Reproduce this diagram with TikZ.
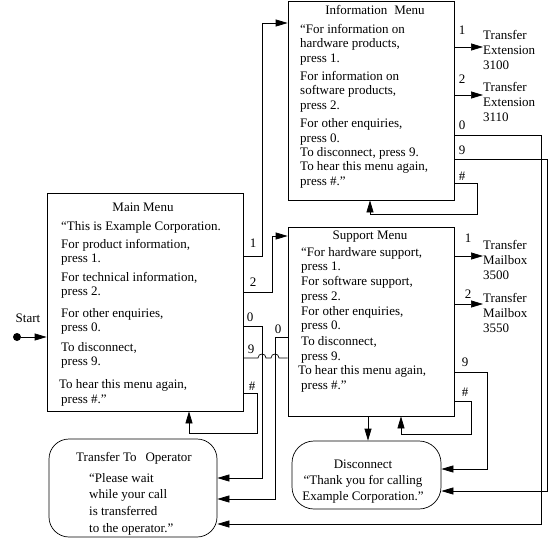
\documentclass[tikz,border=0pt]{standalone}
\usepackage{fontspec}
\setmainfont{Liberation Serif}
\usetikzlibrary{arrows.meta}

\tikzset{
  menubox/.style={draw, line width=0.7pt, inner sep=0pt},
  endbox/.style={draw, line width=0.7pt, inner sep=0pt, rounded corners=20pt},
  body/.style={inner sep=0pt, anchor=north west, align=left},
  key/.style={inner sep=0pt},
  arr/.style={line width=0.7pt, -{Triangle[length=12pt,width=7pt]}},
  wire/.style={line width=0.7pt}
}

\begin{document}
\begin{tikzpicture}[x=1pt, y=-1pt, font=\fontsize{13}{14}\selectfont]
\useasboundingbox (0,0) rectangle (551,541);

% menus
\node[menubox, minimum width=196pt, minimum height=218pt] (mainmenu) at (145,302) {};
\node[menubox, minimum width=166pt, minimum height=199pt] (infomenu) at (371,100.5) {};
\node[menubox, minimum width=166pt, minimum height=189pt] (supportmenu) at (371,321.5) {};
\node[endbox, minimum width=168pt, minimum height=98pt] (operator) at (133,488) {};
\node[endbox, rounded corners=22pt, minimum width=149pt, minimum height=68pt] (disconnect) at (366.5,475) {};

% menu texts
\node[key] (maintitle) at (143,207) {Main Menu};
\node[body] (maintext) at (61,221) {“This is Example Corporation.\\[4pt]
For product information,\\
press 1.\\[5pt]
For technical information,\\
press 2.\\[8pt]
For other enquiries,\\
press 0.\\[6pt]
To disconnect,\\
press 9.\\[9pt]
\hspace{-2pt}To hear this menu again,\\[1.5pt]
press \#.”};

\node[key] (infotitle) at (375,10) {Information\hspace{7pt}Menu};
\node[body, font=\fontsize{13}{14.4}\selectfont] (infotext) at (300,24) {“For information on\\
hardware products,\\
press 1.\\[4pt]
For information on\\
software products,\\
press 2.\\[4pt]
For other enquiries,\\
press 0.\\
To disconnect, press 9.\\
To hear this menu again,\\
press \#.”};

\node[key] (supporttitle) at (370,237) {Support Menu};
\node[body, font=\fontsize{13}{14.7}\selectfont] (supporttext) at (301,247) {“For hardware support,\\
press 1.\\
For software support,\\
press 2.\\
For other enquiries,\\
press 0.\\[1pt]
To disconnect,\\
press 9.\\
\hspace{-3pt}To hear this menu again,\\
press \#.”};

\node[key] (operatortitle) at (134,458) {Transfer To\hspace{9pt}Operator};
\node[body, font=\fontsize{13}{16.7}\selectfont] (operatortext) at (89,473) {“Please wait\\
while your call\\
is transferred\\
to the operator.”};

\node[key, align=center, font=\fontsize{13}{16}\selectfont] (disconnecttext) at (363,482) {Disconnect\\
“Thank you for calling\\
Example Corporation.”};

% transfer targets
\node[body, font=\fontsize{13}{15}\selectfont] (ext1) at (483,30) {Transfer\\Extension\\3100};
\node[body, font=\fontsize{13}{15}\selectfont] (ext2) at (483,82) {Transfer\\Extension\\3110};
\node[body, font=\fontsize{13}{15}\selectfont] (mb1) at (483,240) {Transfer\\Mailbox\\3500};
\node[body, font=\fontsize{13}{15}\selectfont] (mb2) at (483,293) {Transfer\\Mailbox\\3550};

% start
\node[circle, fill, inner sep=0pt, minimum size=8pt] (start) at (17,337) {};
\node[key] (startlabel) at (28,318) {Start};
\draw[arr] (start) -- (mainmenu.west |- start);

% keys
\node[key] (mk1) at (253,243) {1};
\node[key] (mk2) at (253,282) {2};
\node[key] (mk0) at (250,317) {0};
\node[key] (mk9) at (251,349) {9};
\node[key] (mkh) at (252,386) {\#};
\node[key] (sk0) at (278,329) {0};
\node[key] (ik1) at (462,30) {1};
\node[key] (ik2) at (462,79) {2};
\node[key] (ik0) at (462,125) {0};
\node[key] (ik9) at (462,150) {9};
\node[key] (ikh) at (462,176) {\#};
\node[key] (sk1) at (468,238) {1};
\node[key] (sk2) at (468,294) {2};
\node[key] (sk9) at (465,362) {9};
\node[key] (skh) at (465,392) {\#};

% main menu exits
\draw[arr] (mainmenu.east |- 0,256) -| (262,23) -- (infomenu.west |- 0,23);
\draw[arr] (mainmenu.east |- 0,292) -| (272,236) -- (supportmenu.west |- 0,236);
\draw[arr] (mainmenu.east |- 0,326) -| (262,478) -- (operator.east |- 0,478);
\draw[wire] (mainmenu.east |- 0,358) -- (258,358) .. controls (258,352.7) and (266,352.7) .. (266,358)
  -- (271,358) .. controls (271,352.7) and (279,352.7) .. (279,358) -- (supportmenu.west |- 0,358);
\draw[arr] (mainmenu.east |- 0,393) -| (257,433) -| (mainmenu.south -| 189,0);

% information menu exits
\draw[arr] (infomenu.east |- 0,47) -- (ext1.west |- 0,47);
\draw[arr] (infomenu.east |- 0,95) -- (ext2.west |- 0,95);
\draw[arr] (infomenu.east |- 0,135) -| (541,524) -- (operator.east |- 0,524);
\draw[arr] (infomenu.east |- 0,159) -| (547,491) -- (disconnect.east |- 0,491);
\draw[arr] (infomenu.east |- 0,183) -| (477,214) -| (infomenu.south -| 370,0);

% support menu exits
\draw[arr] (supportmenu.west |- 0,337) -| (275,499) -- (operator.east |- 0,499);
\draw[arr] (supportmenu.east |- 0,256) -- (mb1.west |- 0,256);
\draw[arr] (supportmenu.east |- 0,304) -- (mb2.west |- 0,304);
\draw[arr] (supportmenu.east |- 0,372) -| (487,469) -- (disconnect.east |- 0,469);
\draw[arr] (supportmenu.east |- 0,401) -| (471,434) -| (supportmenu.south -| 401,0);
\draw[arr] (supportmenu.south -| 368,0) -- (disconnect.north -| 368,0);
\end{tikzpicture}
\end{document}
